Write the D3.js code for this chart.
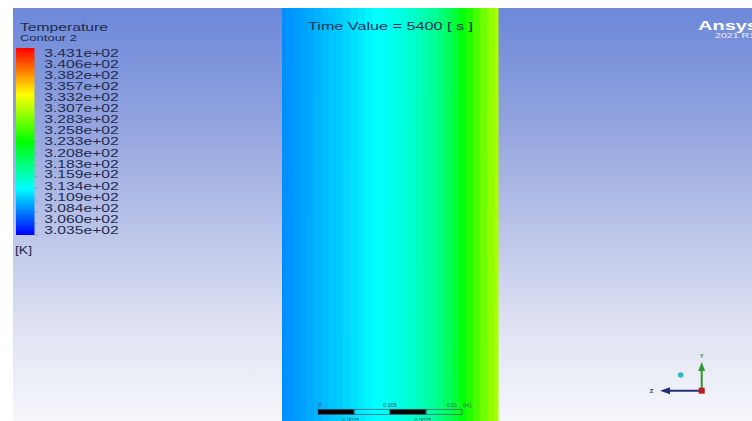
<!DOCTYPE html>
<html>
<head>
<meta charset="utf-8">
<script src="https://cdn.jsdelivr.net/npm/d3@7"></script>
<style>
  html, body { margin: 0; padding: 0; background: #ffffff; }
  svg { display: block; }
  text { font-family: "Liberation Sans", Arial, sans-serif; }
</style>
</head>
<body>
<svg id="chart" width="752" height="421"></svg>
<script>
// Legend tick labels (K), from top to bottom
const legendLabels = ["3.431e+02","3.406e+02","3.382e+02","3.357e+02","3.332e+02","3.307e+02",
  "3.283e+02","3.258e+02","3.233e+02","3.208e+02","3.183e+02","3.159e+02","3.134e+02",
  "3.109e+02","3.084e+02","3.060e+02","3.035e+02"];
const tMin = 303.5, tMax = 343.1;

// Temperature across the wall section (position in mm, temperature in K)
const wallPos = [0,0.5,1,1.5,2,2.5,3,3.5,4,4.5,5,5.5,6,6.5,7,7.5,8,8.5,9,9.5,10,10.5,11,11.5,12,12.5,13,13.5,14,14.5,15];
const wallTemp = [309.0,309.2,309.5,309.8,310.1,310.5,310.8,311.1,311.4,311.8,312.2,312.6,313.0,313.4,313.7,
  314.0,314.4,314.8,315.3,315.9,316.6,317.4,318.4,319.6,321.1,322.8,324.5,326.1,327.6,328.9,329.9];

// Scale bar ticks (m)
const scaleTicks = [0, 0.0025, 0.005, 0.0075, 0.01];
const scaleTopLabels = [[0,"0"],[0.005,"0.005"],[0.01,"0.01"]];
const scaleBottomLabels = [[0.0025,"0.0025"],[0.0075,"0.0075"]];

const svg = d3.select("#chart");
const W = 752, H = 421;

// Rainbow colour map used by the contour and its legend
const color = d3.scaleLinear()
  .domain(d3.range(5).map(i => tMin + i * (tMax - tMin) / 4))
  .range(["#0000ff", "#00ffff", "#00ff00", "#ffff00", "#ff0000"])
  .interpolate(d3.interpolateRgb);

const defs = svg.append("defs");

// Background: blue at the top fading to white at the bottom
const bg = defs.append("linearGradient").attr("id", "bg")
  .attr("x1", 0).attr("y1", 0).attr("x2", 0).attr("y2", 1);
[[0, "#6c88d9"], [0.3, "#95a6df"], [0.55, "#bdc6e9"], [0.8, "#e2e5f3"], [1, "#f6f7fb"]]
  .forEach(([o, c]) => bg.append("stop").attr("offset", o).attr("stop-color", c));

svg.append("rect").attr("width", W).attr("height", H).attr("fill", "#ffffff");
svg.append("rect").attr("x", 13).attr("y", 8).attr("width", W - 13).attr("height", H - 8)
  .attr("fill", "url(#bg)");

// Contour band
const xWall = d3.scaleLinear().domain([0, 15]).range([282, 498]);
const half = 0.25;
svg.append("g").selectAll("rect").data(wallPos).join("rect")
  .attr("x", (d) => xWall(Math.max(0, d - half)))
  .attr("width", (d) => xWall(Math.min(15, d + half)) - xWall(Math.max(0, d - half)) + 0.5)
  .attr("y", 8).attr("height", H - 8)
  .attr("fill", (d, i) => color(wallTemp[i]));

// Legend
const ink = "#1d2a4f";
svg.append("text").attr("x", 20).attr("y", 31).attr("font-size", 11.5)
  .attr("fill", ink).attr("textLength", 88).attr("lengthAdjust", "spacingAndGlyphs")
  .text("Temperature");
svg.append("text").attr("x", 20).attr("y", 40.5).attr("font-size", 9)
  .attr("fill", ink).attr("textLength", 57).attr("lengthAdjust", "spacingAndGlyphs")
  .text("Contour 2");

const barTop = 48, barBottom = 235, barX = 16, barW = 18.5;
const yBar = d3.scaleLinear().domain([tMin, tMax]).range([barBottom, barTop]);
const lg = defs.append("linearGradient").attr("id", "legendGrad")
  .attr("x1", 0).attr("y1", 1).attr("x2", 0).attr("y2", 0);
color.domain().forEach((v) => lg.append("stop")
  .attr("offset", (v - tMin) / (tMax - tMin)).attr("stop-color", color(v)));
svg.append("rect").attr("x", barX).attr("y", barTop).attr("width", barW)
  .attr("height", barBottom - barTop).attr("fill", "url(#legendGrad)");

const labelVals = legendLabels.map((s) => +s);
const yLab = d3.scaleLinear().domain([tMin, tMax]).range([234, 56.7]);
svg.append("g").selectAll("line").data(labelVals).join("line")
  .attr("x1", barX + barW).attr("x2", barX + barW + 3)
  .attr("y1", (d) => yBar(d)).attr("y2", (d) => yBar(d))
  .attr("stroke", "#8a93b5").attr("stroke-width", 0.8);
svg.append("g").selectAll("text").data(legendLabels).join("text")
  .attr("x", 44.3).attr("y", (d) => yLab(+d)).attr("font-size", 10.3)
  .attr("fill", ink).attr("textLength", 74.5).attr("lengthAdjust", "spacingAndGlyphs")
  .text((d) => d);
svg.append("text").attr("x", 15).attr("y", 254).attr("font-size", 10.5)
  .attr("fill", ink).attr("textLength", 17).attr("lengthAdjust", "spacingAndGlyphs")
  .text("[K]");

// Time stamp
svg.append("text").attr("x", 308).attr("y", 30).attr("font-size", 11.5)
  .attr("fill", "#1f3158").attr("textLength", 165).attr("lengthAdjust", "spacingAndGlyphs")
  .text("Time Value = 5400 [ s ]");

// Product mark
svg.append("text").attr("x", 698).attr("y", 29.5).attr("font-size", 12.5)
  .attr("font-weight", "bold").attr("fill", "#ffffff")
  .attr("textLength", 60).attr("lengthAdjust", "spacingAndGlyphs").text("Ansys");
svg.append("text").attr("x", 715).attr("y", 37.8).attr("font-size", 6.5)
  .attr("fill", "#eef1fb").attr("textLength", 40).attr("lengthAdjust", "spacingAndGlyphs")
  .text("2021 R1");

// Scale bar
const xs = d3.scaleLinear().domain([0, 0.01]).range([318, 462]);
const sb = svg.append("g");
const segs = d3.pairs(scaleTicks);
sb.selectAll("rect").data(segs).join("rect")
  .attr("x", (d) => xs(d[0])).attr("y", 409.3)
  .attr("width", (d) => xs(d[1]) - xs(d[0])).attr("height", 5)
  .attr("fill", (d, i) => i % 2 === 0 ? "#000000" : "none")
  .attr("stroke", "#3c4a6a").attr("stroke-width", 0.7);
const sbInk = "#3d4b6e";
sb.selectAll("text.top").data(scaleTopLabels).join("text").attr("class", "top")
  .attr("x", (d) => xs(d[0]) + (d[0] === 0.01 ? -10 : 0)).attr("y", 407)
  .attr("text-anchor", (d) => d[0] === 0 ? "start" : "middle")
  .attr("font-size", 5.5).attr("fill", sbInk).text((d) => d[1]);
sb.append("text").attr("x", 463).attr("y", 407).attr("font-size", 5.5)
  .attr("fill", sbInk).text("(m)");
sb.selectAll("text.bot").data(scaleBottomLabels).join("text").attr("class", "bot")
  .attr("x", (d) => xs(d[0]) - 3).attr("y", 421.5).attr("text-anchor", "middle")
  .attr("font-size", 5.5).attr("fill", sbInk).text((d) => d[1]);

// Axis triad
const ox = 701.7, oy = 390.7;
const tri = svg.append("g");
tri.append("line").attr("x1", ox).attr("y1", oy).attr("x2", ox).attr("y2", 368)
  .attr("stroke", "#2f8f2f").attr("stroke-width", 2);
tri.append("path").attr("d", `M${ox - 3.5},${371} L${ox},${362} L${ox + 3.5},${371} Z`)
  .attr("fill", "#2f9a2f");
tri.append("text").attr("x", ox).attr("y", 358).attr("text-anchor", "middle")
  .attr("font-size", 6).attr("font-weight", "bold").attr("fill", "#3a8a3a").text("Y");
tri.append("line").attr("x1", ox).attr("y1", oy).attr("x2", 668).attr("y2", oy)
  .attr("stroke", "#26307a").attr("stroke-width", 2);
tri.append("path").attr("d", `M${670},${oy - 3.5} L${660},${oy} L${670},${oy + 3.5} Z`)
  .attr("fill", "#26307a");
tri.append("text").attr("x", 651.5).attr("y", oy + 2.2).attr("text-anchor", "middle")
  .attr("font-size", 6).attr("font-weight", "bold").attr("fill", "#2a2f5a").text("Z");
tri.append("rect").attr("x", ox - 3).attr("y", oy - 3).attr("width", 6).attr("height", 6)
  .attr("fill", "#c21a1a");
tri.append("circle").attr("cx", 680.7).attr("cy", 375).attr("r", 2.8).attr("fill", "#2fb8c8");
</script>
</body>
</html>
